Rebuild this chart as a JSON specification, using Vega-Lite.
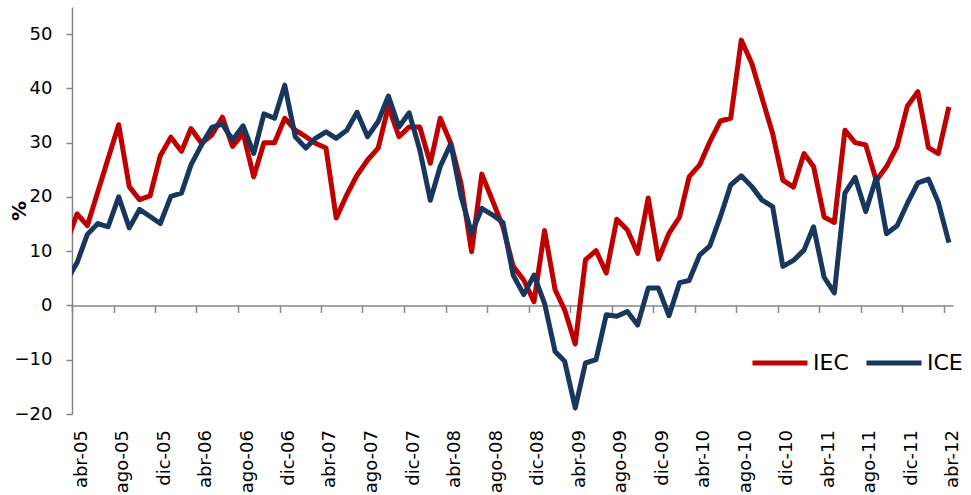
{
  "$schema": "https://vega.github.io/schema/vega-lite/v6.json",
  "autosize": {"type": "none"},
  "padding": {"left": 72, "top": 7, "right": 18, "bottom": 81},
  "width": 881,
  "height": 407,
  "background": "white",
  "config": {
    "view": {"stroke": null},
    "font": "DejaVu Sans"
  },
  "data": {
    "values": [
      {"fecha": "2005-03-16", "IEC": 11.6, "ICE": 4.5},
      {"fecha": "2005-04-16", "IEC": 16.9, "ICE": 7.9},
      {"fecha": "2005-05-16", "IEC": 14.7, "ICE": 13.1},
      {"fecha": "2005-06-16", "IEC": 21.0, "ICE": 15.1},
      {"fecha": "2005-07-16", "IEC": 27.1, "ICE": 14.5},
      {"fecha": "2005-08-16", "IEC": 33.3, "ICE": 20.0},
      {"fecha": "2005-09-16", "IEC": 21.9, "ICE": 14.3},
      {"fecha": "2005-10-16", "IEC": 19.5, "ICE": 17.7},
      {"fecha": "2005-11-16", "IEC": 20.2, "ICE": 16.4},
      {"fecha": "2005-12-16", "IEC": 27.6, "ICE": 15.1},
      {"fecha": "2006-01-16", "IEC": 31.0, "ICE": 20.1},
      {"fecha": "2006-02-16", "IEC": 28.4, "ICE": 20.7},
      {"fecha": "2006-03-16", "IEC": 32.6, "ICE": 25.9},
      {"fecha": "2006-04-16", "IEC": 29.9, "ICE": 29.6},
      {"fecha": "2006-05-16", "IEC": 31.4, "ICE": 32.8},
      {"fecha": "2006-06-16", "IEC": 34.7, "ICE": 33.4},
      {"fecha": "2006-07-16", "IEC": 29.3, "ICE": 30.5},
      {"fecha": "2006-08-16", "IEC": 31.7, "ICE": 33.1},
      {"fecha": "2006-09-16", "IEC": 23.7, "ICE": 28.0},
      {"fecha": "2006-10-16", "IEC": 30.0, "ICE": 35.3},
      {"fecha": "2006-11-16", "IEC": 30.0, "ICE": 34.5},
      {"fecha": "2006-12-16", "IEC": 34.5, "ICE": 40.6},
      {"fecha": "2007-01-16", "IEC": 32.3, "ICE": 31.1},
      {"fecha": "2007-02-16", "IEC": 31.1, "ICE": 29.0},
      {"fecha": "2007-03-16", "IEC": 29.9, "ICE": 30.8},
      {"fecha": "2007-04-16", "IEC": 29.0, "ICE": 32.0},
      {"fecha": "2007-05-16", "IEC": 16.1, "ICE": 30.8},
      {"fecha": "2007-06-16", "IEC": 20.4, "ICE": 32.3},
      {"fecha": "2007-07-16", "IEC": 24.0, "ICE": 35.6},
      {"fecha": "2007-08-16", "IEC": 26.8, "ICE": 31.1},
      {"fecha": "2007-09-16", "IEC": 29.0, "ICE": 33.9},
      {"fecha": "2007-10-16", "IEC": 36.7, "ICE": 38.6},
      {"fecha": "2007-11-16", "IEC": 31.1, "ICE": 32.9},
      {"fecha": "2007-12-16", "IEC": 32.9, "ICE": 35.5},
      {"fecha": "2008-01-16", "IEC": 32.9, "ICE": 28.7},
      {"fecha": "2008-02-16", "IEC": 26.2, "ICE": 19.4},
      {"fecha": "2008-03-16", "IEC": 34.5, "ICE": 25.6},
      {"fecha": "2008-04-16", "IEC": 29.9, "ICE": 29.8},
      {"fecha": "2008-05-16", "IEC": 22.5, "ICE": 20.1},
      {"fecha": "2008-06-16", "IEC": 9.9, "ICE": 13.3},
      {"fecha": "2008-07-16", "IEC": 24.2, "ICE": 17.9},
      {"fecha": "2008-08-16", "IEC": 19.4, "ICE": 16.7},
      {"fecha": "2008-09-16", "IEC": 14.5, "ICE": 15.3},
      {"fecha": "2008-10-16", "IEC": 7.2, "ICE": 5.6},
      {"fecha": "2008-11-16", "IEC": 4.7, "ICE": 2.0},
      {"fecha": "2008-12-16", "IEC": 0.7, "ICE": 5.6},
      {"fecha": "2009-01-16", "IEC": 13.8, "ICE": 0.4},
      {"fecha": "2009-02-16", "IEC": 2.9, "ICE": -8.5},
      {"fecha": "2009-03-16", "IEC": -0.8, "ICE": -10.3},
      {"fecha": "2009-04-16", "IEC": -7.1, "ICE": -18.9},
      {"fecha": "2009-05-16", "IEC": 8.4, "ICE": -10.6},
      {"fecha": "2009-06-16", "IEC": 10.1, "ICE": -10.0},
      {"fecha": "2009-07-16", "IEC": 6.0, "ICE": -1.7},
      {"fecha": "2009-08-16", "IEC": 15.9, "ICE": -2.0},
      {"fecha": "2009-09-16", "IEC": 13.9, "ICE": -1.1},
      {"fecha": "2009-10-16", "IEC": 9.6, "ICE": -3.6},
      {"fecha": "2009-11-16", "IEC": 19.8, "ICE": 3.2},
      {"fecha": "2009-12-16", "IEC": 8.5, "ICE": 3.2},
      {"fecha": "2010-01-16", "IEC": 13.3, "ICE": -1.9},
      {"fecha": "2010-02-16", "IEC": 16.3, "ICE": 4.2},
      {"fecha": "2010-03-16", "IEC": 23.7, "ICE": 4.6},
      {"fecha": "2010-04-16", "IEC": 25.9, "ICE": 9.3},
      {"fecha": "2010-05-16", "IEC": 30.2, "ICE": 11.0},
      {"fecha": "2010-06-16", "IEC": 34.0, "ICE": 16.4},
      {"fecha": "2010-07-16", "IEC": 34.5, "ICE": 22.2},
      {"fecha": "2010-08-16", "IEC": 48.9, "ICE": 23.9},
      {"fecha": "2010-09-16", "IEC": 44.6, "ICE": 21.9},
      {"fecha": "2010-10-16", "IEC": 38.2, "ICE": 19.4},
      {"fecha": "2010-11-16", "IEC": 31.7, "ICE": 18.2},
      {"fecha": "2010-12-16", "IEC": 23.1, "ICE": 7.2},
      {"fecha": "2011-01-16", "IEC": 21.8, "ICE": 8.3},
      {"fecha": "2011-02-16", "IEC": 28.0, "ICE": 10.2},
      {"fecha": "2011-03-16", "IEC": 25.6, "ICE": 14.5},
      {"fecha": "2011-04-16", "IEC": 16.3, "ICE": 5.2},
      {"fecha": "2011-05-16", "IEC": 15.3, "ICE": 2.3},
      {"fecha": "2011-06-16", "IEC": 32.3, "ICE": 20.7},
      {"fecha": "2011-07-16", "IEC": 30.0, "ICE": 23.6},
      {"fecha": "2011-08-16", "IEC": 29.6, "ICE": 17.3},
      {"fecha": "2011-09-16", "IEC": 23.0, "ICE": 23.6},
      {"fecha": "2011-10-16", "IEC": 25.6, "ICE": 13.2},
      {"fecha": "2011-11-16", "IEC": 29.3, "ICE": 14.7},
      {"fecha": "2011-12-16", "IEC": 36.7, "ICE": 18.8},
      {"fecha": "2012-01-16", "IEC": 39.4, "ICE": 22.6},
      {"fecha": "2012-02-16", "IEC": 29.1, "ICE": 23.3},
      {"fecha": "2012-03-16", "IEC": 28.0, "ICE": 19.0},
      {"fecha": "2012-04-16", "IEC": 36.6, "ICE": 11.6}
    ]
  },
  "transform": [
    {"fold": ["IEC", "ICE"], "as": ["serie", "valor"]}
  ],
  "mark": {"type": "line", "strokeWidth": 5, "strokeJoin": "round", "clip": true},
  "encoding": {
    "x": {
      "field": "fecha",
      "type": "temporal",
      "scale": {
        "type": "utc",
        "domain": [
          {"year": 2005, "month": 4, "date": 1, "utc": true},
          {"year": 2012, "month": 4, "date": 28, "utc": true}
        ]
      },
      "axis": {
        "title": null,
        "offset": -108.5,
        "grid": false,
        "domainColor": "#868686",
        "domainWidth": 1.5,
        "tickColor": "#868686",
        "tickWidth": 1.5,
        "tickSize": 7,
        "labelAngle": -90,
        "labelPadding": 117,
        "labelOffset": 9,
        "labelFont": "DejaVu Sans",
        "labelFontSize": 18,
        "labelColor": "black",
        "labelExpr": "['ene','feb','mar','abr','may','jun','jul','ago','sep','oct','nov','dic'][utcmonth(datum.value)] + '-' + utcFormat(datum.value, '%y')",
        "values": [
          {"year": 2005, "month": 4, "date": 1, "utc": true},
          {"year": 2005, "month": 8, "date": 1, "utc": true},
          {"year": 2005, "month": 12, "date": 1, "utc": true},
          {"year": 2006, "month": 4, "date": 1, "utc": true},
          {"year": 2006, "month": 8, "date": 1, "utc": true},
          {"year": 2006, "month": 12, "date": 1, "utc": true},
          {"year": 2007, "month": 4, "date": 1, "utc": true},
          {"year": 2007, "month": 8, "date": 1, "utc": true},
          {"year": 2007, "month": 12, "date": 1, "utc": true},
          {"year": 2008, "month": 4, "date": 1, "utc": true},
          {"year": 2008, "month": 8, "date": 1, "utc": true},
          {"year": 2008, "month": 12, "date": 1, "utc": true},
          {"year": 2009, "month": 4, "date": 1, "utc": true},
          {"year": 2009, "month": 8, "date": 1, "utc": true},
          {"year": 2009, "month": 12, "date": 1, "utc": true},
          {"year": 2010, "month": 4, "date": 1, "utc": true},
          {"year": 2010, "month": 8, "date": 1, "utc": true},
          {"year": 2010, "month": 12, "date": 1, "utc": true},
          {"year": 2011, "month": 4, "date": 1, "utc": true},
          {"year": 2011, "month": 8, "date": 1, "utc": true},
          {"year": 2011, "month": 12, "date": 1, "utc": true},
          {"year": 2012, "month": 4, "date": 1, "utc": true}
        ]
      }
    },
    "y": {
      "field": "valor",
      "type": "quantitative",
      "scale": {"domain": [-20, 55], "nice": false, "zero": false},
      "axis": {
        "title": "%",
        "titleFont": "DejaVu Sans",
        "titleFontSize": 20,
        "titleFontWeight": "bold",
        "titleColor": "black",
        "titleAngle": -90,
        "titleX": -53,
        "titleY": 203.5,
        "titleAlign": "center",
        "titleBaseline": "middle",
        "grid": false,
        "values": [-20, -10, 0, 10, 20, 30, 40, 50],
        "domainColor": "#868686",
        "domainWidth": 1.5,
        "tickColor": "#868686",
        "tickWidth": 1.5,
        "tickSize": 6,
        "labelPadding": 14,
        "labelFont": "DejaVu Sans",
        "labelFontSize": 18,
        "labelColor": "black"
      }
    },
    "color": {
      "field": "serie",
      "type": "nominal",
      "sort": ["IEC", "ICE"],
      "scale": {"domain": ["IEC", "ICE"], "range": ["#C00000", "#17375E"]},
      "legend": {
        "title": null,
        "orient": "none",
        "direction": "horizontal",
        "legendX": 678,
        "legendY": 326,
        "symbolType": "stroke",
        "symbolSize": 3025,
        "symbolStrokeWidth": 5,
        "labelFont": "DejaVu Sans",
        "labelFontSize": 22,
        "labelColor": "black",
        "labelOffset": 3,
        "columnPadding": 7,
        "padding": 0
      }
    }
  }
}
